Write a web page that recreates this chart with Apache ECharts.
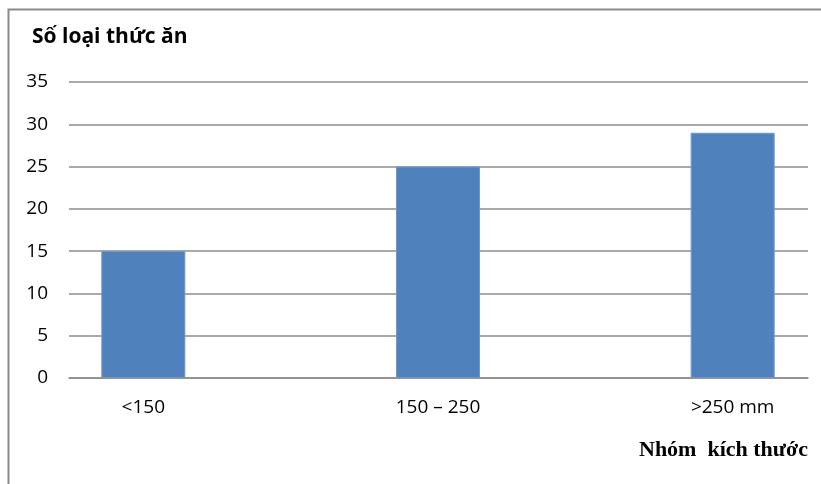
<!DOCTYPE html>
<html>
<head>
<meta charset="utf-8">
<script src="https://cdn.jsdelivr.net/npm/echarts@6/dist/echarts.min.js"></script>
<style>
  html, body { margin: 0; padding: 0; background: #fff; }
  #chart1 { width: 821px; height: 484px; }
</style>
</head>
<body>
<div id="chart1"></div>
<script>
// chart data
const categories = ['<150', '150 – 250', '>250 mm'];
const foodTypes = [15, 25, 29];
const yTicks = { min: 0, max: 35, interval: 5 };
const yTitle = 'Số loại thức ăn';
const xTitle = 'Nhóm  kích thước';

const echart1 = echarts.init(document.getElementById('chart1'));

const labelFont = 'Open Sans, Noto Sans, sans-serif';

const option = {
  backgroundColor: '#fff',
  animation: false,
  graphic: [
    // outer chart border (right/bottom run off the picture)
    { type: 'rect', shape: { x: 8.5, y: 9.5, width: 900, height: 600 },
      style: { fill: 'none', stroke: '#8a8a8a', lineWidth: 2 } },
    { type: 'text', left: 32, top: 27,
      style: { text: yTitle, font: 'bold 21px ' + labelFont, fill: '#000' } },
    { type: 'text', right: 13, top: 439,
      style: { text: xTitle, font: 'bold 22px Liberation Serif, DejaVu Serif, serif', fill: '#000' } }
  ],
  grid: [
    // grid 0: value axis + gridlines
    { left: 69, right: 13, top: 82, bottom: 106, outerBoundsMode: 'none' },
    // grid 1: bars, wider so category centres fall where the original puts them
    { left: -4, width: 884, top: 82, bottom: 106, outerBoundsMode: 'none' }
  ],
  xAxis: [
    {
      gridIndex: 0, type: 'category', data: categories,
      axisLine: { lineStyle: { color: '#8c8c8c', width: 1.5 } },
      axisTick: { show: false }, axisLabel: { show: false }
    },
    {
      gridIndex: 1, type: 'category', data: categories,
      axisLine: { show: false }, axisTick: { show: false },
      axisLabel: { margin: 20, color: '#000', fontSize: 19, fontFamily: labelFont }
    }
  ],
  yAxis: [
    {
      gridIndex: 0, type: 'value',
      min: yTicks.min, max: yTicks.max, interval: yTicks.interval,
      axisLine: { show: false }, axisTick: { show: false },
      axisLabel: { margin: 21, color: '#000', fontSize: 19, fontFamily: labelFont },
      splitLine: { lineStyle: { color: '#8c8c8c', width: 1.5 } }
    },
    {
      gridIndex: 1, type: 'value',
      min: yTicks.min, max: yTicks.max, interval: yTicks.interval,
      show: false, splitLine: { show: false }
    }
  ],
  series: [
    {
      type: 'bar', xAxisIndex: 1, yAxisIndex: 1,
      data: foodTypes, barWidth: 84,
      itemStyle: { color: '#4f81bd', borderColor: '#6f97c8', borderWidth: 1 }
    }
  ]
};

echart1.setOption(option);
</script>
</body>
</html>
